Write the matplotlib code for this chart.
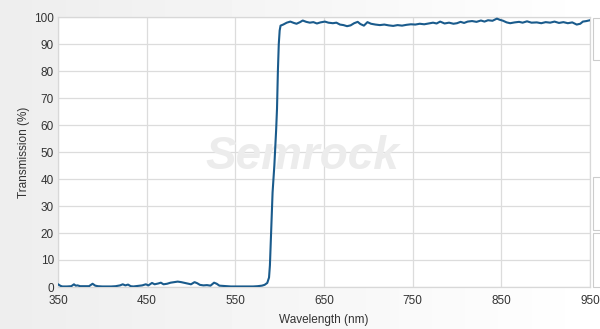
import matplotlib
matplotlib.use("Agg")
import matplotlib.pyplot as plt
import numpy as np

# Wavelength (nm) and transmission (%)
wl_low = [350, 353, 355, 360, 365, 368, 370, 372, 375, 380, 385, 389, 392, 395, 400,
          405, 410, 415, 420, 423, 426, 429, 432, 435, 440, 445, 449, 452, 456, 459,
          463, 466, 469, 473, 477, 481, 485, 489, 493, 497, 500, 504, 507, 510, 514,
          518, 522, 526, 529, 532, 536, 540, 545, 550, 555, 560, 565, 570, 575, 580]
tr_low = [1.0, 0.4, 0.2, 0.2, 0.3, 1.0, 0.5, 0.6, 0.3, 0.3, 0.3, 1.2, 0.5, 0.3, 0.2,
          0.2, 0.2, 0.3, 0.6, 1.0, 0.6, 0.9, 0.3, 0.2, 0.4, 0.6, 1.0, 0.6, 1.5, 1.0,
          1.3, 1.6, 1.0, 1.2, 1.6, 1.8, 2.0, 1.8, 1.5, 1.2, 1.0, 1.8, 1.4, 0.8, 0.6,
          0.7, 0.5, 1.6, 1.2, 0.5, 0.4, 0.3, 0.2, 0.2, 0.2, 0.2, 0.2, 0.2, 0.3, 0.5]

wl_edge = [583, 586, 588, 589, 590, 591, 592, 594, 596, 597, 598, 599, 600, 601]
tr_edge = [0.8, 1.5, 3.5, 8.0, 17.0, 27.0, 35.0, 45.0, 58.0, 66.0, 80.0, 90.0, 95.0, 96.8]

wl_high = [604, 608, 612, 616, 619, 623, 626, 630, 634, 638, 642, 646, 651, 655, 660,
           664, 668, 672, 676, 680, 684, 688, 691, 695, 699, 703, 708, 713, 718, 723,
           728, 733, 738, 743, 748, 753, 758, 763, 768, 773, 777, 781, 786, 791, 796,
           800, 804, 808, 812, 817, 822, 827, 831, 835, 840, 845, 848, 852, 856, 860,
           865, 870, 874, 879, 884, 890, 895, 900, 905, 910, 915, 920, 925, 930, 935,
           939, 942, 946, 950]
tr_high = [97.2, 97.9, 98.3, 97.8, 97.5, 98.1, 98.7, 98.2, 97.9, 98.1, 97.6, 98.0, 98.3, 97.9, 97.7,
           97.9, 97.2, 97.0, 96.6, 96.9, 97.7, 98.2, 97.4, 96.8, 98.1, 97.5, 97.2, 97.0, 97.2, 96.9,
           96.7, 97.0, 96.8, 97.1, 97.3, 97.2, 97.5, 97.3, 97.6, 97.9, 97.6, 98.3, 97.6, 97.9, 97.5,
           97.7, 98.2, 97.8, 98.3, 98.5, 98.2, 98.7, 98.3, 98.8, 98.6, 99.4, 99.0, 98.6, 98.0, 97.7,
           98.0, 98.2, 97.9, 98.4, 97.9, 98.0, 97.7, 98.1, 97.9, 98.3, 97.8, 98.1, 97.7, 98.0, 97.2,
           97.5, 98.3, 98.5, 98.8]

x_ticks = [350, 450, 550, 650, 750, 850, 950]
y_ticks = [0, 10, 20, 30, 40, 50, 60, 70, 80, 90, 100]

wl = wl_low + wl_edge + wl_high
tr = tr_low + tr_edge + tr_high

plt.rcParams['font.family'] = ['Liberation Sans', 'DejaVu Sans']

fig = plt.figure(figsize=(6.0, 3.29), dpi=100)
fig.patch.set_facecolor('#ffffff')

# light gray background gradient
bg = fig.add_axes([0, 0, 1, 1], zorder=-10)
g = np.linspace(0, 1, 200)
grad = np.outer(np.ones(50), 0.93 + 0.07 * g)
bg.imshow(grad, cmap='gray', vmin=0, vmax=1, aspect='auto', extent=[0, 1, 0, 1])
bg.set_xlim(0, 1); bg.set_ylim(0, 1)
bg.axis('off')
# right side panel fragments
for (y0, h) in [(0.818, 0.128), (0.301, 0.161), (0.128, 0.164)]:
    bg.add_patch(plt.Rectangle((0.988, y0), 0.03, h, facecolor='white',
                               edgecolor='#cccccc', lw=0.8))

ax = fig.add_axes([58/600, 42/329, 532/600, 270/329])
ax.set_facecolor('white')
ax.plot(wl, tr, color='#1a5b8c', lw=1.5, solid_joinstyle='round', zorder=3)

ax.set_xlim(350, 950)
ax.set_ylim(0, 100)
ax.set_xticks(x_ticks)
ax.set_yticks(y_ticks)
ax.grid(True, color='#dcdcdc', lw=0.9)
ax.set_axisbelow(True)
ax.tick_params(length=0, labelsize=8.5, colors='#333333')
ax.tick_params(axis='x', pad=6)
ax.tick_params(axis='y', pad=3)
for s in ax.spines.values():
    s.set_color('#d8d8d8')
    s.set_linewidth(0.9)

ax.set_xlabel('Wavelength (nm)', fontsize=8.5, color='#333333', labelpad=5)
ax.set_ylabel('Transmission (%)', fontsize=8.5, color='#333333', labelpad=3)

# watermark
ax.text(0.46, 0.48, 'Semrock', transform=ax.transAxes, fontsize=33,
        fontstyle='italic', fontweight='bold', color='#ececec',
        ha='center', va='center', zorder=1)

fig.savefig('out.png', dpi=100)
